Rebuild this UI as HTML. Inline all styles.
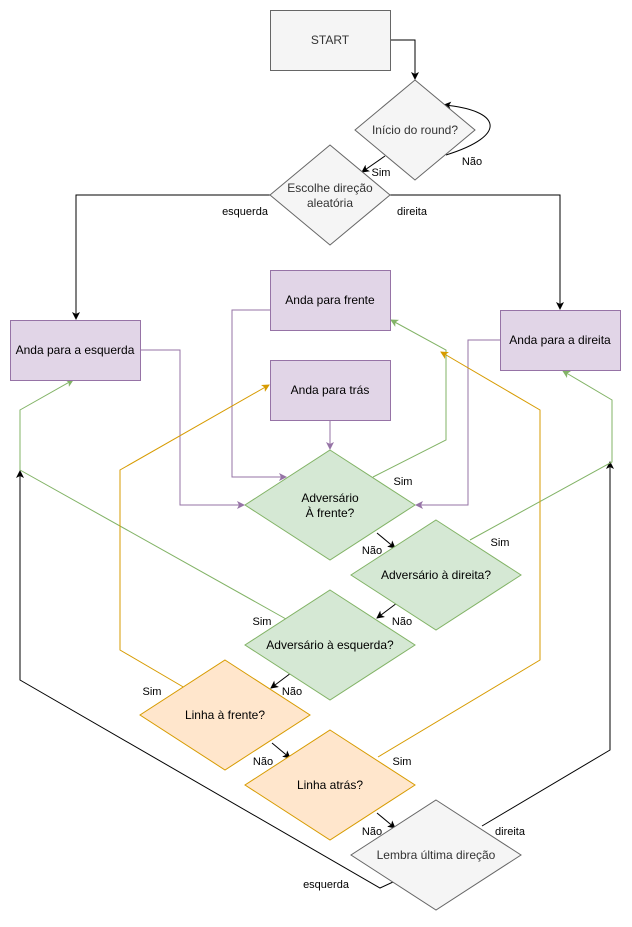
<!DOCTYPE html>
<html><head><meta charset="utf-8"><style>
html,body{margin:0;padding:0;background:#fff;}
svg text{font-family:"Liberation Sans",Arial,sans-serif;}
</style></head><body>
<svg width="632" height="922" viewBox="0 0 632 922" xmlns="http://www.w3.org/2000/svg">
<defs>
<marker id="ak" markerWidth="8" markerHeight="8" refX="7" refY="4" orient="auto" markerUnits="userSpaceOnUse"><path d="M0,0 L8,4 L0,8 L2,4 z" fill="#000"/></marker>
<marker id="ap" markerWidth="8" markerHeight="8" refX="7" refY="4" orient="auto" markerUnits="userSpaceOnUse"><path d="M0,0 L8,4 L0,8 L2,4 z" fill="#9673a6"/></marker>
<marker id="ag" markerWidth="8" markerHeight="8" refX="7" refY="4" orient="auto" markerUnits="userSpaceOnUse"><path d="M0,0 L8,4 L0,8 L2,4 z" fill="#82b366"/></marker>
<marker id="ao" markerWidth="8" markerHeight="8" refX="7" refY="4" orient="auto" markerUnits="userSpaceOnUse"><path d="M0,0 L8,4 L0,8 L2,4 z" fill="#d79b00"/></marker>
</defs>
<g fill="none" stroke-width="1">
<!-- black -->
<path d="M390,40 H415 V79" stroke="#000" marker-end="url(#ak)"/>
<path d="M446,155 C510,135 500,110 444,105" stroke="#000" marker-end="url(#ak)"/>
<path d="M385,156 L362,172" stroke="#000" marker-end="url(#ak)"/>
<path d="M270,195 H76 V319" stroke="#000" marker-end="url(#ak)"/>
<path d="M390,195 H560 V309" stroke="#000" marker-end="url(#ak)"/>
<path d="M377,533 L395,548" stroke="#000" marker-end="url(#ak)"/>
<path d="M397,603 L377,618" stroke="#000" marker-end="url(#ak)"/>
<path d="M291,673 L271,688" stroke="#000" marker-end="url(#ak)"/>
<path d="M272,743 L290,758" stroke="#000" marker-end="url(#ak)"/>
<path d="M377,813 L395,828" stroke="#000" marker-end="url(#ak)"/>
<path d="M393,882 L380,888 L20,680 V471" stroke="#000" marker-end="url(#ak)"/>
<path d="M482,826 L610,750 V462" stroke="#000" marker-end="url(#ak)"/>
<!-- purple -->
<path d="M270,310 H232 V477 H286" stroke="#9673a6" marker-end="url(#ap)"/>
<path d="M140,350 H180 V505 H244" stroke="#9673a6" marker-end="url(#ap)"/>
<path d="M500,340 H468 V505 H416" stroke="#9673a6" marker-end="url(#ap)"/>
<path d="M330,420 V449" stroke="#9673a6" marker-end="url(#ap)"/>
<!-- green -->
<path d="M373,477 L446,440 V350 L391,320" stroke="#82b366" marker-end="url(#ag)"/>
<path d="M470,540 L612,462 V400 L563,371" stroke="#82b366" marker-end="url(#ag)"/>
<path d="M286,619 L20,470 V410 L73,380" stroke="#82b366" marker-end="url(#ag)"/>
<!-- orange -->
<path d="M185,688 L120,650 V470 L269,385" stroke="#d79b00" marker-end="url(#ao)"/>
<path d="M378,757 L540,660 V410 L441,352" stroke="#d79b00" marker-end="url(#ao)"/>
</g>
<!-- nodes -->
<rect x="270.5" y="10.5" width="120" height="60" fill="#f5f5f5" stroke="#666"/>
<polygon points="415,80 475,130 415,180 355,130" fill="#f5f5f5" stroke="#666"/>
<polygon points="330,145 390,195 330,245 270,195" fill="#f5f5f5" stroke="#666"/>
<rect x="10.5" y="320.5" width="130" height="60" fill="#e1d5e7" stroke="#9673a6"/>
<rect x="270.5" y="270.5" width="120" height="60" fill="#e1d5e7" stroke="#9673a6"/>
<rect x="270.5" y="360.5" width="120" height="60" fill="#e1d5e7" stroke="#9673a6"/>
<rect x="500.5" y="310.5" width="120" height="60" fill="#e1d5e7" stroke="#9673a6"/>
<polygon points="330,450 415,505 330,560 245,505" fill="#d5e8d4" stroke="#82b366"/>
<polygon points="436,520 521,575 436,630 351,575" fill="#d5e8d4" stroke="#82b366"/>
<polygon points="330,590 415,645 330,700 245,645" fill="#d5e8d4" stroke="#82b366"/>
<polygon points="225,660 310,715 225,770 140,715" fill="#ffe6cc" stroke="#d79b00"/>
<polygon points="330,730 415,785 330,840 245,785" fill="#ffe6cc" stroke="#d79b00"/>
<polygon points="436,800 521,855 436,910 351,855" fill="#f5f5f5" stroke="#666"/>
<g font-size="12" fill="#333" text-anchor="middle">
<text x="330" y="44">START</text>
<text x="415" y="134">Início do round?</text>
<text x="330" y="192">Escolhe direção</text>
<text x="330" y="207">aleatória</text>
</g>
<g font-size="12" fill="#000" text-anchor="middle">
<text x="75" y="354">Anda para a esquerda</text>
<text x="330" y="304">Anda para frente</text>
<text x="330" y="394">Anda para trás</text>
<text x="560" y="344">Anda para a direita</text>
<text x="330" y="502">Adversário</text>
<text x="330" y="517">À frente?</text>
<text x="436" y="579">Adversário à direita?</text>
<text x="330" y="649">Adversário à esquerda?</text>
<text x="225" y="719">Linha à frente?</text>
<text x="330" y="789">Linha atrás?</text>
<text x="436" y="859" fill="#333">Lembra última direção</text>
</g>
<g font-size="11" fill="#000" text-anchor="middle">
<text x="472" y="165">Não</text>
<text x="381" y="176">Sim</text>
<text x="245" y="215">esquerda</text>
<text x="412" y="215">direita</text>
<text x="403" y="485">Sim</text>
<text x="500" y="546">Sim</text>
<text x="262" y="625">Sim</text>
<text x="152" y="695">Sim</text>
<text x="402" y="765">Sim</text>
<text x="372" y="554">Não</text>
<text x="402" y="625">Não</text>
<text x="292" y="695">Não</text>
<text x="263" y="765">Não</text>
<text x="372" y="835">Não</text>
<text x="510" y="835">direita</text>
<text x="326" y="888">esquerda</text>
</g>
</svg>
</body></html>
